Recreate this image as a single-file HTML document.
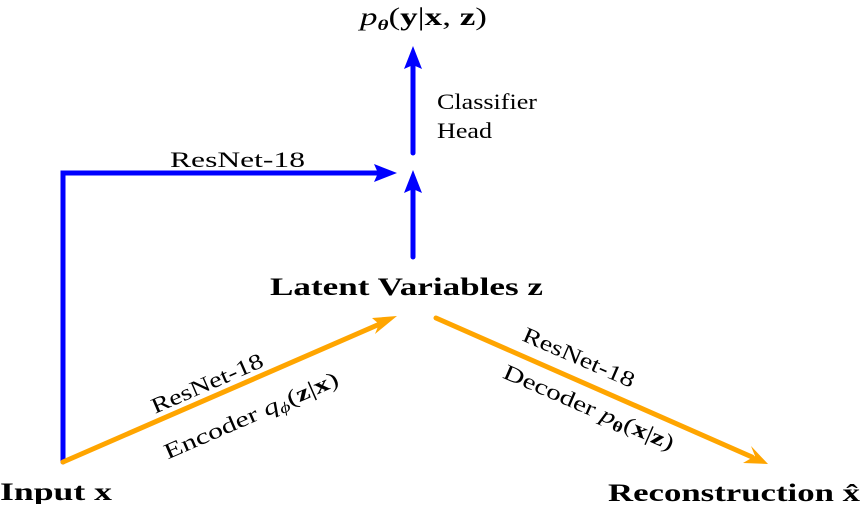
<!DOCTYPE html>
<html><head><meta charset="utf-8"><style>
html,body{margin:0;padding:0;background:#fff}
text,tspan{font-family:"Liberation Serif","DejaVu Serif",serif}
</style></head><body>
<svg width="865" height="504" viewBox="0 0 865 504" xmlns="http://www.w3.org/2000/svg" font-family="Liberation Serif, DejaVu Serif, serif">
<g stroke="#0000ff" stroke-width="5" fill="none" stroke-linecap="round" stroke-linejoin="miter">
<polyline points="63,462 63,173 380,173"/>
<line x1="413" y1="257" x2="413" y2="188"/>
<line x1="413" y1="153" x2="413" y2="62"/>
</g>
<g fill="#0000ff">
<polygon points="397,173 374,164 378,173 374,182"/>
<polygon points="413,170 404,193 413,189 422,193"/>
<polygon points="413,46 404,69 413,65 422,69"/>
</g>
<g stroke="#ffa500" stroke-width="5" fill="none" stroke-linecap="round">
<line x1="63" y1="462" x2="382" y2="323"/>
<line x1="436" y1="318" x2="752" y2="457"/>
</g>
<g fill="#ffa500">
<polygon points="397,316 372,318 379,324 375,334"/>
<polygon points="768,464 751,446 755,456 743,463"/>
</g>
<text x="360" y="25" font-size="25" textLength="127" lengthAdjust="spacingAndGlyphs" font-style="italic">p<tspan font-size="15" dy="5" font-weight="bold">θ</tspan><tspan dy="-5" font-style="normal">(</tspan><tspan font-weight="bold" font-style="normal">y</tspan><tspan font-style="normal">|</tspan><tspan font-weight="bold" font-style="normal">x</tspan><tspan font-style="normal">, </tspan><tspan font-weight="bold" font-style="normal">z</tspan><tspan font-style="normal">)</tspan></text>
<text x="437" y="109" font-size="22" textLength="100" lengthAdjust="spacingAndGlyphs">Classifier</text>
<text x="437" y="138" font-size="22" textLength="55" lengthAdjust="spacingAndGlyphs">Head</text>
<text x="170" y="167" font-size="22" textLength="135" lengthAdjust="spacingAndGlyphs">ResNet-18</text>
<text x="270" y="295" font-size="25" font-weight="bold" textLength="273" lengthAdjust="spacingAndGlyphs">Latent Variables z</text>
<text x="0" y="500" font-size="25" font-weight="bold" textLength="112" lengthAdjust="spacingAndGlyphs">Input x</text>
<text x="608" y="501" font-size="25" font-weight="bold" textLength="252" lengthAdjust="spacingAndGlyphs">Reconstruction x̂</text>
<g transform="translate(210,390) rotate(-23.5)"><text x="-60" y="0" font-size="22" textLength="120" lengthAdjust="spacingAndGlyphs">ResNet-18</text></g>
<g transform="translate(254,422) rotate(-23.5)"><text x="-94" y="0" font-size="22" textLength="188" lengthAdjust="spacingAndGlyphs">Encoder <tspan font-style="italic">q</tspan><tspan font-style="italic" font-size="15" dy="4">ϕ</tspan><tspan dy="-4">(</tspan><tspan font-weight="bold">z</tspan>|<tspan font-weight="bold">x</tspan>)</text></g>
<g transform="translate(576,364) rotate(23.5)"><text x="-60" y="0" font-size="22" textLength="120" lengthAdjust="spacingAndGlyphs">ResNet-18</text></g>
<g transform="translate(586,414) rotate(23.5)"><text x="-92" y="0" font-size="22" textLength="184" lengthAdjust="spacingAndGlyphs">Decoder <tspan font-style="italic">p</tspan><tspan font-size="15" dy="4" font-weight="bold">θ</tspan><tspan dy="-4">(</tspan><tspan font-weight="bold">x</tspan>|<tspan font-weight="bold">z</tspan>)</text></g>
</svg>
</body></html>
